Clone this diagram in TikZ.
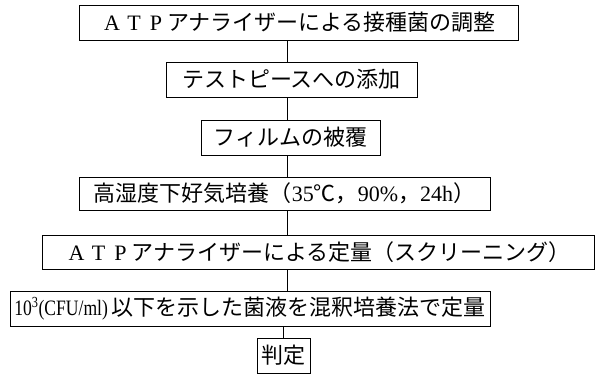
\documentclass[tikz,border=0pt]{standalone}
\usepackage{graphicx}
\usepackage{fontspec}
\setmainfont{Liberation Serif}
\newfontfamily\jpfont{Noto Sans CJK JP}
\newcommand\fwl[1]{\makebox[1em]{\rmfamily #1}}
\begin{document}
\begin{tikzpicture}[x=1pt,y=-1pt,
  stepbox/.style={draw=black,line width=0.9pt,inner sep=0pt,
    font=\fontsize{22}{26}\selectfont\jpfont},
  link/.style={draw=black,line width=0.8pt}]
\useasboundingbox[fill=white] (0,0) rectangle (595,376);
\node[stepbox,minimum width=439,minimum height=35] (b1) at (298.5,22.5)
  {\fwl{A}\fwl{T}\fwl{P}アナライザーによる接種菌の調整};
\node[stepbox,minimum width=251,minimum height=35] (b2) at (291.5,79.5)
  {テストピースへの添加};
\node[stepbox,minimum width=179,minimum height=35] (b3) at (290.5,137.5)
  {フィルムの被覆};
\node[stepbox,minimum width=411,minimum height=33] (b4) at (284.5,193.5)
  {高湿度下好気培養（{\rmfamily 35}℃，{\rmfamily 90\%}，{\rmfamily 24h}）};
\node[stepbox,minimum width=552,minimum height=34] (b5) at (318,252)
  {\fwl{A}\fwl{T}\fwl{P}アナライザーによる定量（スクリーニング）};
\node[stepbox,minimum width=480,minimum height=35] (b6) at (250,308.5)
  {\scalebox{0.8}[1]{\rmfamily 10\textsuperscript{3}(CFU/ml)}\,以下を示した菌液を混釈培養法で定量};
\node[stepbox,minimum width=53,minimum height=35] (b7) at (283.5,355.5)
  {判定};
\coordinate (axis) at (287,0);
\draw[link] (b1.south -| axis) -- (b2.north -| axis);
\draw[link] (b2.south -| axis) -- (b3.north -| axis);
\draw[link] (b3.south -| axis) -- (b4.north -| axis);
\draw[link] (b4.south -| axis) -- (b5.north -| axis);
\draw[link] (b5.south -| axis) -- (b6.north -| axis);
\draw[link] (b6.south -| b7.north) -- (b7.north);
\end{tikzpicture}
\end{document}
